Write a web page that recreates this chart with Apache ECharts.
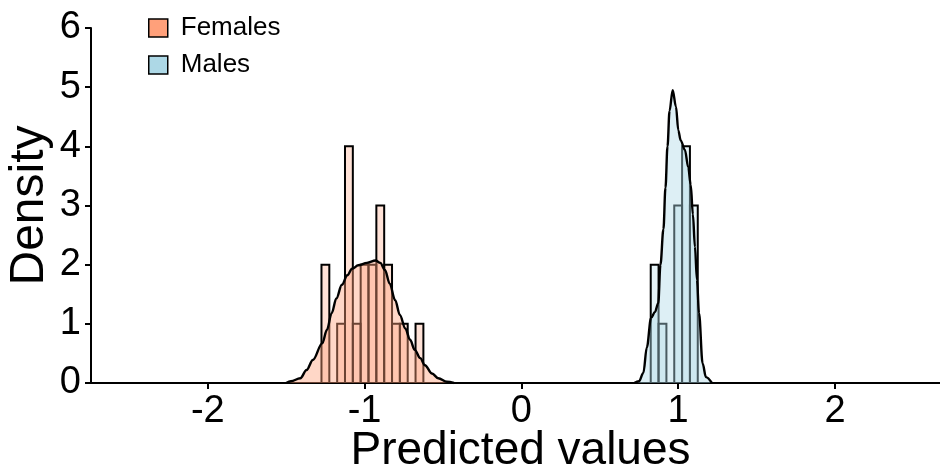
<!DOCTYPE html>
<html>
<head>
<meta charset="utf-8">
<script src="https://cdn.jsdelivr.net/npm/echarts@6/dist/echarts.min.js"></script>
<style>
html,body{margin:0;padding:0;background:#fff;}
#chart{width:940px;height:473px;}
</style>
</head>
<body>
<div id="chart"></div>
<script>
// ---- data ----
const binWidth = 0.05;
const femaleBins = [-1.25, -1.20, -1.15, -1.10, -1.05, -1.00, -0.95, -0.90, -0.85, -0.80, -0.75, -0.70, -0.65];
const femaleDensity = [2, 0, 1, 4, 1, 2, 2, 3, 2, 1, 1, 0, 1];
const maleBins = [0.85, 0.90, 0.95, 1.00, 1.05, 1.10];
const maleDensity = [2, 1, 0, 3, 4, 3];

const femaleKdeX = [-1.50, -1.47, -1.41, -1.37, -1.33, -1.27, -1.24, -1.21, -1.18, -1.145, -1.11, -1.08, -1.04, -0.985, -0.93, -0.90, -0.87, -0.84, -0.805, -0.775, -0.74, -0.71, -0.68, -0.645, -0.615, -0.57, -0.53, -0.475, -0.43];
const femaleKdeY = [0, 0.03, 0.08, 0.22, 0.39, 0.67, 0.90, 1.18, 1.43, 1.66, 1.82, 1.93, 1.99, 2.03, 2.07, 2.03, 1.91, 1.68, 1.40, 1.15, 0.92, 0.73, 0.56, 0.42, 0.30, 0.16, 0.08, 0.02, 0];

const maleKdeX = [0.72, 0.75, 0.778, 0.80, 0.827, 0.852, 0.873, 0.887, 0.906, 0.919, 0.932, 0.945, 0.965, 0.986, 1.001, 1.016, 1.043, 1.064, 1.080, 1.094, 1.107, 1.120, 1.133, 1.156, 1.177, 1.215];
const maleKdeY = [0, 0.03, 0.17, 0.60, 1.10, 1.20, 1.35, 2.00, 2.60, 3.30, 4.00, 4.60, 4.95, 4.67, 4.27, 4.10, 3.94, 3.65, 3.35, 2.85, 2.30, 1.74, 1.18, 0.33, 0.10, 0];

const xTicks = [-2, -1, 0, 1, 2];
const seriesNames = ['Females', 'Males'];
const xTitle = 'Predicted values';
const yTitle = 'Density';

// ---- styles ----
const FONT = '"Liberation Sans", Arial, Helvetica, sans-serif';
const femaleColor = '#FFA07A';
const maleColor = '#ADD8E6';

function pairs(xs, ys) { return xs.map((x, i) => [x, ys[i]]); }

function histSeries(name, bins, dens, fill) {
  return {
    name: name,
    type: 'custom',
    data: pairs(bins, dens),
    itemStyle: { color: fill },
    renderItem: function (params, api) {
      const c = api.value(0), d = api.value(1);
      if (!d) return null;
      const p0 = api.coord([c - binWidth / 2, 0]);
      const p1 = api.coord([c + binWidth / 2, d]);
      return {
        type: 'rect',
        shape: { x: p0[0], y: p1[1], width: p1[0] - p0[0], height: p0[1] - p1[1] },
        style: { fill: fill, stroke: '#000', lineWidth: 2 }
      };
    },
    z: 1
  };
}

function kdeSeries(name, xs, ys, fill) {
  return {
    name: name,
    type: 'line',
    data: pairs(xs, ys),
    smooth: 0.35,
    smoothMonotone: 'x',
    symbol: 'none',
    lineStyle: { color: '#000', width: 2.4 },
    itemStyle: { color: fill },
    areaStyle: { color: fill },
    z: 2
  };
}

const chart = echarts.init(document.getElementById('chart'), null, { renderer: 'canvas' });
chart.setOption({
  animation: false,
  backgroundColor: '#fff',
  textStyle: { fontFamily: FONT },
  grid: { left: 91, right: 0, top: 28, bottom: 90, containLabel: false, outerBoundsMode: 'none' },
  legend: {
    orient: 'vertical',
    left: 143,
    top: 10,
    itemWidth: 19,
    itemHeight: 18,
    itemGap: 11,
    icon: 'rect',
    selectedMode: false,
    textStyle: { fontFamily: FONT, fontSize: 26, color: '#000', padding: [0, 0, 0, 8] },
    data: [
      { name: seriesNames[0], itemStyle: { color: femaleColor, borderColor: '#000', borderWidth: 1.5, opacity: 1 } },
      { name: seriesNames[1], itemStyle: { color: maleColor, borderColor: '#000', borderWidth: 1.5, opacity: 1 } }
    ]
  },
  xAxis: {
    type: 'value',
    min: -2.745,
    max: 2.67,
    name: xTitle,
    nameLocation: 'middle',
    nameGap: 45,
    nameMoveOverlap: false,
    nameTextStyle: { fontFamily: FONT, fontSize: 46, color: '#000', verticalAlign: 'top', padding: [0, 0, 0, 10] },
    axisLine: { show: true, onZero: false, lineStyle: { color: '#000', width: 2 } },
    axisTick: { show: true, length: 6, lineStyle: { color: '#000', width: 2 }, customValues: xTicks },
    axisLabel: { fontFamily: FONT, fontSize: 38, color: '#000', margin: 10, customValues: xTicks },
    splitLine: { show: false }
  },
  yAxis: {
    type: 'value',
    min: 0,
    max: 6,
    interval: 1,
    name: yTitle,
    nameLocation: 'middle',
    nameGap: 37,
    nameMoveOverlap: false,
    nameRotate: 90,
    nameTextStyle: { fontFamily: FONT, fontSize: 48, color: '#000', verticalAlign: 'bottom' },
    axisLine: { show: true, onZero: false, lineStyle: { color: '#000', width: 2 } },
    axisTick: { show: true, length: 6, lineStyle: { color: '#000', width: 2 } },
    axisLabel: { fontFamily: FONT, fontSize: 38, color: '#000', margin: 10 },
    splitLine: { show: false }
  },
  series: [
    histSeries(seriesNames[0], femaleBins, femaleDensity, 'rgba(255,160,122,0.3)'),
    histSeries(seriesNames[1], maleBins, maleDensity, 'rgba(173,216,230,0.3)'),
    kdeSeries(seriesNames[0], femaleKdeX, femaleKdeY, 'rgba(255,160,122,0.6)'),
    kdeSeries(seriesNames[1], maleKdeX, maleKdeY, 'rgba(173,216,230,0.6)')
  ]
});
</script>
</body>
</html>
